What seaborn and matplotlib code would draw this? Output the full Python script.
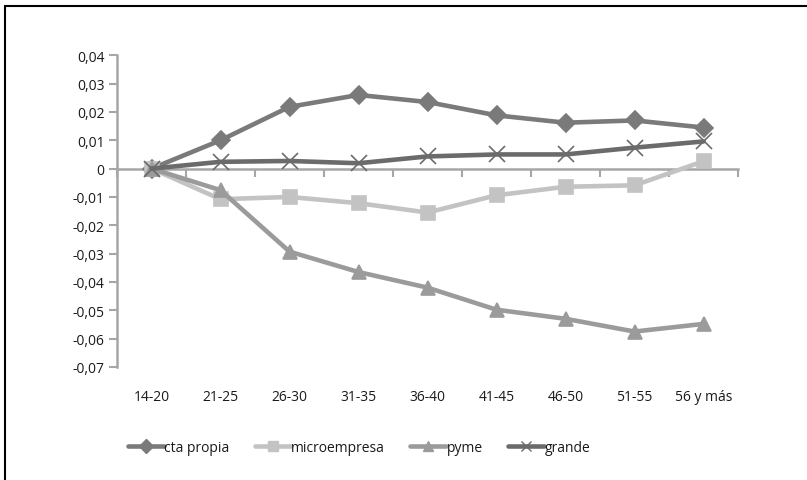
import pandas as pd
import matplotlib.pyplot as plt
import seaborn as sns
from matplotlib.lines import Line2D
from matplotlib.ticker import FuncFormatter

# Data
edades = ['14-20', '21-25', '26-30', '31-35', '36-40', '41-45', '46-50', '51-55', '56 y más']
cta_propia = [0, 0.0100, 0.0218, 0.0260, 0.0235, 0.0188, 0.0162, 0.0170, 0.0145]
microempresa = [0, -0.0108, -0.0100, -0.0122, -0.0155, -0.0094, -0.0064, -0.0059, 0.0026]
pyme = [0, -0.0076, -0.0293, -0.0365, -0.0420, -0.0498, -0.0530, -0.0575, -0.0548]
grande = [0, 0.0024, 0.0027, 0.0019, 0.0043, 0.0050, 0.0050, 0.0074, 0.0096]
series = ['cta propia', 'microempresa', 'pyme', 'grande']

colores = {'cta propia': '#7a7a7a', 'microempresa': '#c3c3c3',
           'pyme': '#9b9b9b', 'grande': '#6b6b6b'}
marcadores = {'cta propia': 'D', 'microempresa': 's', 'pyme': '^', 'grande': 'x'}
tamanos = {'cta propia': 9, 'microempresa': 10, 'pyme': 10, 'grande': 11}

rows = []
for name, vals in zip(series, [cta_propia, microempresa, pyme, grande]):
    for i, v in enumerate(vals):
        rows.append({'pos': i, 'valor': v, 'serie': name})
df = pd.DataFrame(rows)

sns.set_theme(style='white')
plt.rcParams['font.family'] = ['Open Sans', 'DejaVu Sans']

fig = plt.figure(figsize=(8.07, 4.81), dpi=100)
ax = fig.add_axes([0.145, 0.235, 0.7695, 0.648])

for name in series:
    sub = df[df['serie'] == name]
    sns.lineplot(data=sub, x='pos', y='valor', color=colores[name],
                 marker=marcadores[name], markersize=tamanos[name],
                 markerfacecolor=colores[name], markeredgecolor=colores[name],
                 markeredgewidth=1.2, linewidth=3.3, ax=ax, label=name, legend=False)

ax.set_xlim(-0.5, 8.5)
ax.set_ylim(-0.07, 0.04)
ax.set_yticks([0.04 - 0.01 * i for i in range(12)])
ax.yaxis.set_major_formatter(FuncFormatter(
    lambda v, p: '0' if abs(v) < 1e-9 else f'{v:.2f}'.replace('.', ',')))
ax.set_xlabel('')
ax.set_ylabel('')

axis_gray = '#a6a6a6'
for s in ['top', 'right']:
    ax.spines[s].set_visible(False)
ax.spines['left'].set_color(axis_gray)
ax.spines['left'].set_linewidth(1.8)
ax.spines['bottom'].set_position(('data', 0))
ax.spines['bottom'].set_color(axis_gray)
ax.spines['bottom'].set_linewidth(1.8)
ax.spines['bottom'].set_zorder(0.5)

ax.set_xticks([i - 0.5 for i in range(10)])
ax.set_xticklabels([])
ax.tick_params(axis='x', bottom=True, direction='out', length=6, width=1.5,
               color=axis_gray)
ax.tick_params(axis='y', left=True, direction='out', length=6, width=1.5,
               color=axis_gray, labelsize=10, labelcolor='#1a1a1a', pad=3)

sec = ax.secondary_xaxis(0)
sec.set_xticks(range(len(edades)))
sec.set_xticklabels(edades)
sec.tick_params(length=0, labelsize=10, labelcolor='#1a1a1a', pad=16)
sec.spines['bottom'].set_visible(False)

handles = [Line2D([0], [0], color=colores[n], lw=3.3, marker=marcadores[n],
                  markersize=7, markerfacecolor=colores[n], markeredgecolor=colores[n])
           for n in series]
fig.legend(handles, series, loc='center', bbox_to_anchor=(0.445, 0.067), ncol=4,
           frameon=False, fontsize=10, handlelength=2.6, handletextpad=0.05,
           columnspacing=1.8, labelcolor='#1a1a1a')

# outer frame lines (left and top)
fig.add_artist(Line2D([0.006, 0.006], [0, 0.986], color='black', lw=1.5,
                      transform=fig.transFigure))
fig.add_artist(Line2D([0.006, 1.0], [0.986, 0.986], color='black', lw=1.5,
                      transform=fig.transFigure))

fig.savefig('out.png', dpi=100)
